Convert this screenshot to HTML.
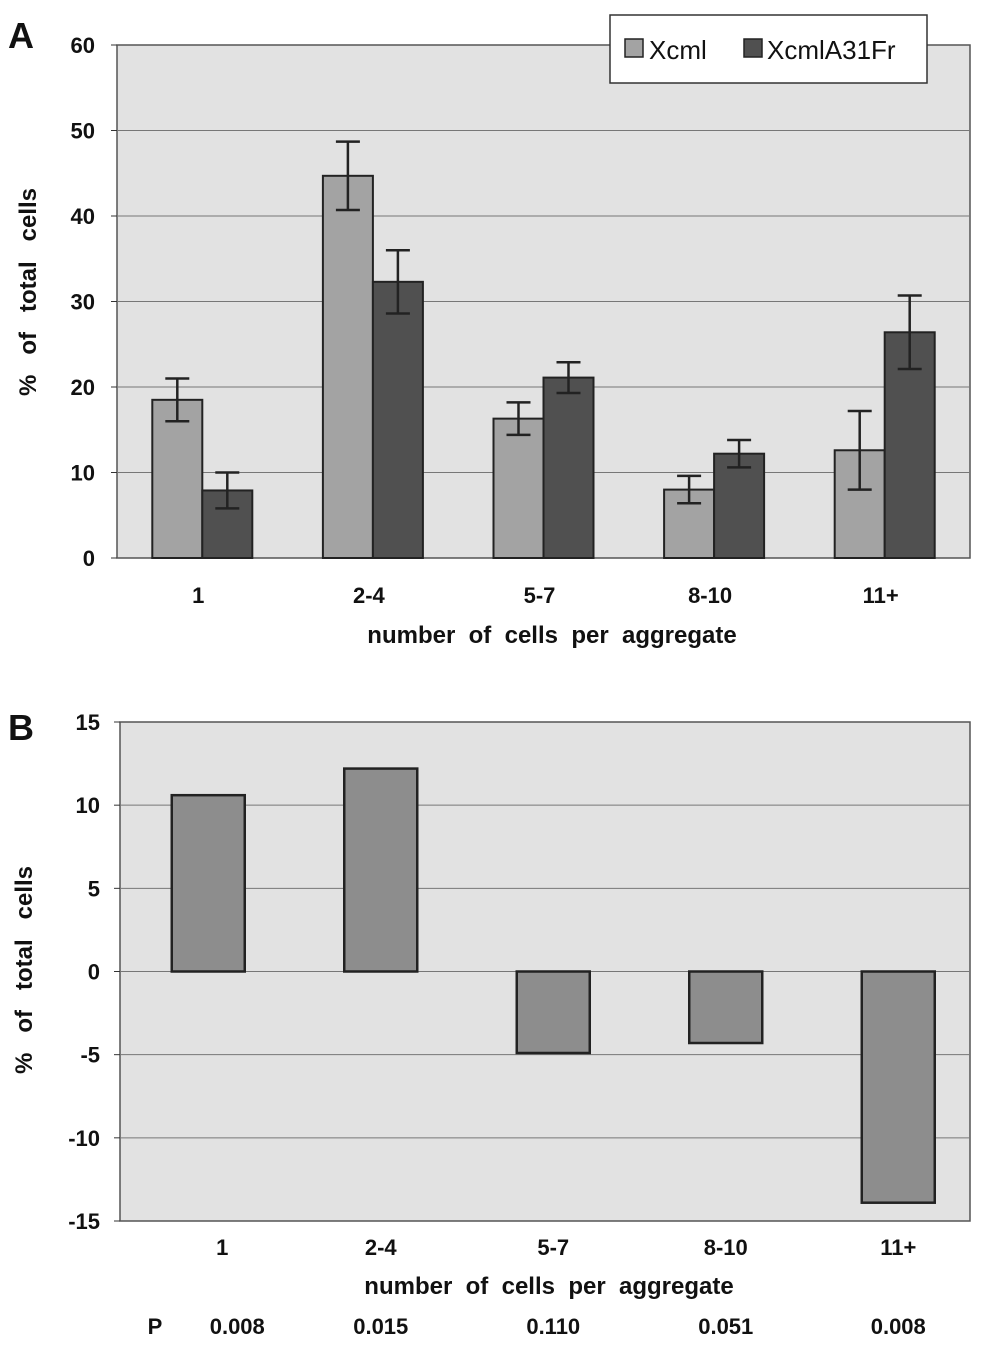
<!DOCTYPE html>
<html><head><meta charset="utf-8"><style>
body{margin:0;background:#fff;width:994px;height:1347px;overflow:hidden;font-family:"Liberation Sans",Arial,sans-serif}
svg text{font-family:"Liberation Sans",Arial,sans-serif;font-weight:bold;fill:#111;white-space:pre}
svg text.nb{font-weight:normal}
</style></head><body>
<svg id="s" width="994" height="1347" xml:space="preserve"></svg>
<script>
const catsA=["1","2-4","5-7","8-10","11+"];
const xcml=[18.5,44.7,16.3,8.0,12.6];
const xcmlErr=[2.5,4.0,1.9,1.6,4.6];
const mut=[7.9,32.3,21.1,12.2,26.4];
const mutErr=[2.1,3.7,1.8,1.6,4.3];
const ticksA=[0,10,20,30,40,50,60];
const catsB=["1","2-4","5-7","8-10","11+"];
const diffB=[10.6,12.2,-4.9,-4.3,-13.9];
const ticksB=[-15,-10,-5,0,5,10,15];
const pvals=["0.008","0.015","0.110","0.051","0.008"];
const NS="http://www.w3.org/2000/svg",s=document.getElementById('s');
function el(t,a,p){const e=document.createElementNS(NS,t);for(const k in a)e.setAttribute(k,a[k]);(p||s).appendChild(e);return e;}
function tx(x,y,str,size,anchor,extra){const e=el('text',Object.assign({x:x,y:y,'font-size':size,'text-anchor':anchor||'middle'},extra||{}));e.textContent=str;return e;}
// Chart A
const A={x0:117,x1:970,yTop:45,yBot:558,max:60};
const yA=v=>A.yBot-(v/A.max)*(A.yBot-A.yTop);
const gw=(A.x1-A.x0)/catsA.length;
const xA=i=>A.x0+gw*(i+0.5);
let r=el('rect',{x:A.x0,y:A.yTop,width:A.x1-A.x0,height:A.yBot-A.yTop,fill:'#e2e2e2',stroke:'#555','stroke-width':1.5});

ticksA.forEach(t=>{const y=yA(t);
 if(t>0&&t<A.max){const g=el('line',{x1:A.x0,x2:A.x1,y1:y,y2:y,stroke:'#777','stroke-width':1});}
 el('line',{x1:A.x0-6,x2:A.x0,y1:y,y2:y,stroke:'#333'});
 const l=tx(A.x0-22,y+8,String(t),22,'end');});
const bw=50;
function errbar(x,v,e){el('line',{x1:x,x2:x,y1:yA(v-e),y2:yA(v+e),stroke:'#222','stroke-width':2.5});
 [v-e,v+e].forEach(u=>el('line',{x1:x-12,x2:x+12,y1:yA(u),y2:yA(u),stroke:'#222','stroke-width':2.5}));}
catsA.forEach((c,i)=>{const cx=xA(i);
 let b=el('rect',{x:cx-bw,y:yA(xcml[i]),width:bw,height:A.yBot-yA(xcml[i]),fill:'#a3a3a3',stroke:'#222','stroke-width':2});
 
 let d=el('rect',{x:cx,y:yA(mut[i]),width:bw,height:A.yBot-yA(mut[i]),fill:'#505050',stroke:'#222','stroke-width':2});
 
 errbar(cx-bw/2,xcml[i],xcmlErr[i]);errbar(cx+bw/2,mut[i],mutErr[i]);
 const l=tx(cx-4,603,c,22);});
let t=tx(552,643,"number  of  cells  per  aggregate",24);
t=tx(0,0,"%   of   total   cells",24,'middle',{transform:'translate(36,292) rotate(-90)'});
t=tx(8,48,"A",36,'start');
// legend
let lg=el('g',{});
el('rect',{x:610,y:15,width:317,height:68,fill:'#fff',stroke:'#333','stroke-width':1.5},lg);
el('rect',{x:625,y:39,width:18,height:18,fill:'#a3a3a3',stroke:'#222','stroke-width':1.5},lg);
t=tx(649,59,"Xcml",26,'start',{'class':'nb'});
el('rect',{x:744,y:39,width:18,height:18,fill:'#505050',stroke:'#222','stroke-width':1.5},lg);
t=tx(767,59,"XcmlA31Fr",26,'start',{'class':'nb'});
// Chart B
const B={x0:120,x1:970,yTop:722,yBot:1221,min:-15,max:15};
const yB=v=>B.yBot-((v-B.min)/(B.max-B.min))*(B.yBot-B.yTop);
const bandX0=122,bandW=172.5;const xB=i=>bandX0+bandW*(i+0.5);
r=el('rect',{x:B.x0,y:B.yTop,width:B.x1-B.x0,height:B.yBot-B.yTop,fill:'#e2e2e2',stroke:'#555','stroke-width':1.5});

ticksB.forEach(v=>{const y=yB(v);
 if(v>B.min&&v<B.max){const g=el('line',{x1:B.x0,x2:B.x1,y1:y,y2:y,stroke:'#777','stroke-width':1});}
 el('line',{x1:B.x0-6,x2:B.x0,y1:y,y2:y,stroke:'#333'});
 const l=tx(B.x0-20,y+8,String(v),22,'end');});
const bwB=73;
catsB.forEach((c,i)=>{const cx=xB(i),v=diffB[i];
 const b=el('rect',{x:cx-bwB/2,y:Math.min(yB(v),yB(0)),width:bwB,height:Math.abs(yB(v)-yB(0)),fill:'#8d8d8d',stroke:'#222','stroke-width':2.5});
 
 let l=tx(i===0?cx+14:cx,1255,c,22);
 l=tx(i===0?cx+29:cx,1334,pvals[i],22);});
t=tx(549,1294,"number  of  cells  per  aggregate",24);
t=tx(155,1334,"P",22);
t=tx(0,0,"%   of   total   cells",24,'middle',{transform:'translate(32,970) rotate(-90)'});
t=tx(8,740,"B",36,'start');
</script>
</body></html>
